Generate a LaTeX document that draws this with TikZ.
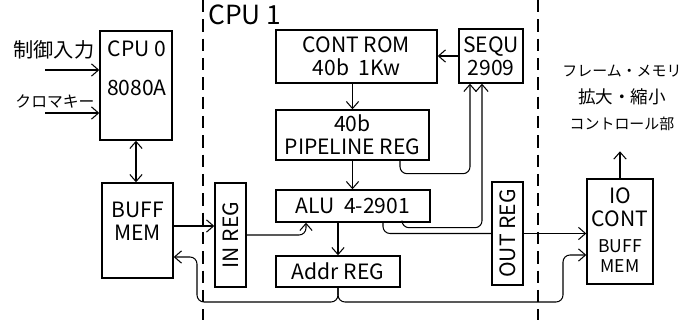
\documentclass[tikz,border=0pt]{standalone}
\usepackage{fontspec}
\setmainfont{Noto Sans CJK JP}
\usetikzlibrary{arrows.meta, calc}

\begin{document}
\begin{tikzpicture}[
    x=0.02cm, y=-0.02cm,
    every node/.style={font=\fontsize{12}{13}\selectfont, align=center},
    blk/.style={draw, thick, inner sep=0pt},
    wire/.style={semithick, rounded corners=4pt},
    >={Straight Barb[length=4pt, width=7pt]},
  ]
  \useasboundingbox (0,0) rectangle (682,320);

  % separators
  \draw[semithick, dash pattern=on 7pt off 4pt] (203,0) -- (203,320);
  \draw[semithick, dash pattern=on 7pt off 4pt] (538,0) -- (538,320);
  \node[font=\fontsize{15}{15}\selectfont] (cpu1txt) at (245,15) {CPU 1};

  % CPU 0
  \node[blk, minimum width=1.44cm, minimum height=2.18cm] (cpu0) at (136,85.5) {};
  \node (cpu0txt) at (137,68) {CPU 0\\[9pt]8080A};
  \node[blk, minimum width=1.42cm, minimum height=1.9cm] (buff) at (137.5,230.5) {};
  \node (bufftxt) at (137.5,221.5) {BUFF\\MEM};
  \node[font=\fontsize{11.5}{12}\selectfont] (ctltxt) at (54,50) {制御入力};
  \node[font=\fontsize{9}{10}\selectfont] (chrtxt) at (55,101) {クロマキー};
  \coordinate (ctl) at (45,70);
  \coordinate (chr) at (45,113);
  \draw[wire, ->] (ctl) -- (ctl -| cpu0.west);
  \draw[wire, ->] (chr) -- (chr -| cpu0.west);
  \draw[wire, <->] (cpu0.south) -- (cpu0.south |- buff.north);

  % CPU 1
  \node[blk, minimum width=0.62cm, minimum height=2.08cm] (inreg) at (230.5,235) {\rotatebox{90}{IN REG}};
  \node[blk, minimum width=3.22cm, minimum height=1.06cm] (rom) at (356.5,56.5) {CONT ROM\\40b\ \ 1Kw};
  \node[blk, minimum width=3.06cm, minimum height=1cm] (pipe) at (352.5,135) {40b\\PIPELINE REG};
  \node[blk, minimum width=3.08cm, minimum height=0.64cm] (alu) at (353,206) {ALU\ \ 4-2901};
  \node[blk, minimum width=2.48cm, minimum height=0.62cm] (addr) at (338,271.5) {Addr REG};
  \node[blk, minimum width=1.28cm, minimum height=1.08cm] (sequ) at (491,56) {SEQU\\2909};
  \node[blk, minimum width=0.62cm, minimum height=2.06cm] (outreg) at (507.5,233.5) {\rotatebox{90}{OUT REG}};

  \draw[wire, ->] ([yshift=0.09cm]buff.east) -- ([yshift=0.09cm]buff.east -| inreg.west);
  \draw[wire, ->] (inreg.east) -| ([xshift=-0.94cm]alu.south);
  \draw[wire, ->] (rom.south -| pipe.north) -- (pipe.north);
  \draw[wire, ->] (pipe.south) -- (pipe.south |- alu.north);
  \draw[wire, ->] (alu.south -| addr.north) -- (addr.north);
  \draw[wire, ->] (sequ.west) -- (sequ.west -| rom.east);
  \draw[wire, ->] ([xshift=0.95cm]pipe.south) -- ++(0,13) -| ([xshift=-0.42cm]sequ.south);
  \draw[wire, ->] ([xshift=0.98cm]alu.south) -- ++(0,5) -| ([xshift=-0.18cm]sequ.south);
  \draw[wire] ([xshift=0.6cm]alu.south) |- (outreg.west);

  % IO
  \node[blk, minimum width=1.32cm, minimum height=2.1cm] (io) at (620,231.5) {};
  \node (iotxt) at (620,207.5) {IO\\CONT};
  \node[font=\fontsize{10}{11}\selectfont] (iobuf) at (620,256) {BUFF\\MEM};
  \node[font=\fontsize{8.5}{15}\selectfont] (fmtxt) at (622,98)
    {フレーム・メモリ\\{\fontsize{10}{15}\selectfont 拡大・縮小}\\コントロール部};
  \draw[wire, ->] (io.north) -- ++(0,-27);
  \draw[wire, ->] (outreg.east) -- (outreg.east -| io.west);

  % address bus
  \coordinate (busL) at (197,302);
  \coordinate (busR) at (563,302);
  \draw[wire, ->] (addr.south) |- (busL) |- ([yshift=-0.53cm]buff.east);
  \draw[wire, ->] (addr.south) |- (busR) |- ([yshift=-0.47cm]io.west);
\end{tikzpicture}
\end{document}
